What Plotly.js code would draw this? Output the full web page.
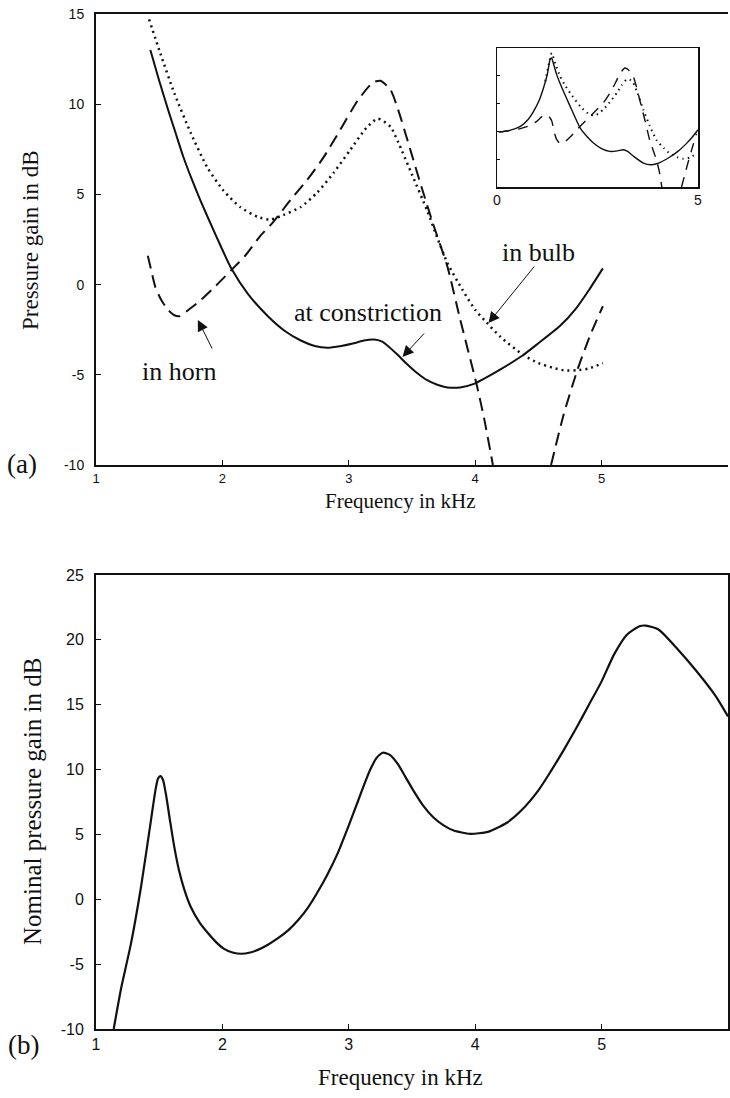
<!DOCTYPE html>
<html>
<head>
<meta charset="utf-8">
<script src="https://cdn.plot.ly/plotly-3.0.1.min.js"></script>
<style>html,body{margin:0;padding:0;background:#fff;}#chart{width:730px;height:1098px;}</style>
</head>
<body>
<div id="chart"></div>
<script>
// ---------- Panel (a): pressure gain, three locations ----------
const constrictionF = [1.43,1.50,1.57,1.63,1.69,1.76,1.83,1.95,2.07,2.20,2.36,2.50,2.62,2.73,2.83,2.94,3.04,3.12,3.20,3.26,3.31,3.38,3.46,3.54,3.62,3.70,3.78,3.88,3.99,4.10,4.20,4.38,4.50,4.67,4.80,4.90,5.01];
const constrictionDB = [13.0,11.3,9.7,8.4,7.1,5.8,4.6,2.7,0.9,-0.5,-1.75,-2.6,-3.1,-3.4,-3.5,-3.4,-3.25,-3.1,-3.05,-3.15,-3.4,-3.85,-4.4,-4.9,-5.3,-5.55,-5.7,-5.7,-5.5,-5.1,-4.7,-3.9,-3.25,-2.3,-1.3,-0.3,0.9];

const bulbF = [1.42,1.51,1.62,1.75,1.88,2.01,2.14,2.28,2.38,2.48,2.62,2.75,2.88,3.01,3.14,3.23,3.33,3.39,3.50,3.62,3.70,3.78,3.90,4.00,4.09,4.20,4.38,4.50,4.61,4.70,4.80,4.90,5.01];
const bulbDB = [14.7,12.8,10.6,8.4,6.5,5.2,4.3,3.75,3.6,3.85,4.3,5.1,6.2,7.45,8.7,9.2,8.75,7.9,6.1,4.1,2.6,1.2,-0.3,-1.4,-2.1,-2.9,-3.9,-4.35,-4.6,-4.75,-4.75,-4.65,-4.35];

const hornF1 = [1.41,1.44,1.47,1.52,1.57,1.62,1.66,1.75,1.83,1.95,2.07,2.18,2.30,2.40,2.54,2.67,2.80,2.93,3.07,3.19,3.25,3.33,3.39,3.49,3.58,3.67,3.78,3.88,4.01,4.07,4.14];
const hornDB1 = [1.6,0.7,-0.15,-0.9,-1.4,-1.7,-1.75,-1.3,-0.85,-0.05,0.8,1.6,2.7,3.45,4.7,5.8,7.05,8.55,10.2,11.2,11.3,10.8,9.7,7.4,5.3,3.3,1.0,-1.9,-5.5,-7.4,-10];
const hornF2 = [4.60,4.70,4.81,4.91,5.01];
const hornDB2 = [-10,-7.2,-4.7,-2.8,-1.2];

// ---------- Inset of panel (a): 0-5 kHz ----------
const insConF = [0.04,0.30,0.58,0.78,0.91,1.05,1.16,1.25,1.32,1.36,1.40,1.48,1.57,1.82,2.07,2.25,2.40,2.60,2.81,3.00,3.14,3.25,3.40,3.64,3.84,4.05,4.30,4.50,4.71,4.86,5.00];
const insConDB = [-0.1,0.15,0.9,2.2,3.6,5.6,7.9,10.2,12.9,13.2,12.3,10.3,8.6,4.5,0.6,-1.0,-2.1,-3.1,-3.6,-3.5,-3.3,-3.6,-4.5,-5.7,-6.0,-5.6,-4.6,-3.6,-2.2,-1.0,0.3];
const insBulbF = [1.20,1.30,1.36,1.45,1.57,1.70,1.82,2.07,2.31,2.45,2.64,2.80,2.98,3.10,3.22,3.30,3.39,3.50,3.64,3.80,3.97,4.15,4.30,4.50,4.63,4.80,4.96];
const insBulbDB = [9.0,12.5,14.1,12.2,9.9,8.2,6.9,4.5,3.0,2.9,3.9,5.2,6.9,8.3,9.3,9.3,8.7,6.8,3.9,1.0,-1.6,-3.0,-4.0,-4.7,-4.9,-4.7,-4.0];
const insHornF1 = [0.08,0.35,0.58,0.80,0.99,1.12,1.20,1.28,1.36,1.42,1.48,1.57,1.68,1.82,2.00,2.15,2.48,2.65,2.81,2.95,3.06,3.18,3.28,3.39,3.47,3.55,3.68,3.80,3.90,3.97,4.04,4.10];
const insHornDB1 = [-0.1,0.2,0.5,1.0,1.8,2.7,3.0,2.8,1.9,0.0,-1.4,-2.2,-1.9,-1.0,0.4,1.5,3.9,5.2,6.9,8.8,10.4,11.4,11.0,9.9,8.0,5.7,2.0,-1.6,-3.7,-5.2,-7.3,-10];
const insHornF2 = [4.59,4.70,4.79,4.88,4.96];
const insHornDB2 = [-10,-7.0,-4.6,-2.4,-0.4];

// ---------- Panel (b): nominal pressure gain ----------
const nominalF = [1.14,1.20,1.277,1.356,1.435,1.47,1.49,1.51,1.53,1.555,1.585,1.62,1.656,1.70,1.75,1.82,1.885,1.95,2.01,2.08,2.15,2.22,2.28,2.36,2.44,2.52,2.60,2.68,2.75,2.83,2.91,3.0,3.07,3.12,3.17,3.22,3.27,3.33,3.39,3.45,3.51,3.59,3.67,3.75,3.83,3.96,4.10,4.25,4.36,4.50,4.60,4.70,4.80,4.90,5.0,5.1,5.2,5.3,5.35,5.45,5.6,5.75,5.9,6.0];
const nominalDB = [-10,-6.8,-3.4,0.95,6.1,8.4,9.3,9.5,9.2,8.0,6.1,4.0,2.25,0.7,-0.6,-1.8,-2.6,-3.3,-3.8,-4.1,-4.2,-4.1,-3.9,-3.5,-3.0,-2.4,-1.6,-0.6,0.5,1.9,3.5,5.7,7.5,8.8,10.0,10.9,11.3,11.1,10.4,9.4,8.4,7.2,6.3,5.7,5.3,5.05,5.2,5.9,6.8,8.4,9.9,11.5,13.2,15.0,16.8,18.9,20.4,21.05,21.1,20.8,19.3,17.6,15.7,14.1];

const xTicks = [1,2,3,4,5,6];
const yTicksA = [-10,-5,0,5,10,15];
const yTicksB = [-10,-5,0,5,10,15,20,25];
const insetXTicks = [0,5];

// ---------- geometry helpers (pixel -> paper) ----------
const W = 730, H = 1098;
const fx = p => p / W;
const fy = p => 1 - p / H;

const serif = 'Liberation Serif, Times New Roman, serif';
const sans = 'Liberation Sans, Arial, sans-serif';
const blk = '#111';

function line(x, y, xa, ya, dash, width, smoothing) {
  return {x: x, y: y, xaxis: xa, yaxis: ya, type: 'scatter', mode: 'lines',
    line: {color: blk, width: width, dash: dash, shape: 'spline', smoothing: smoothing === undefined ? 0.6 : smoothing},
    hoverinfo: 'skip', cliponaxis: true};
}

const traces = [
  line(constrictionF, constrictionDB, 'x', 'y', 'solid', 2),
  line(bulbF, bulbDB, 'x', 'y', '2px,4px', 2.5),
  line(hornF1, hornDB1, 'x', 'y', '13px,7px', 2),
  line(hornF2, hornDB2, 'x', 'y', '13px,7px', 2),
  line(insConF, insConDB, 'x3', 'y3', 'solid', 1.4, 0.5),
  line(insBulbF, insBulbDB, 'x3', 'y3', '1.5px,4px', 2, 0.5),
  line(insHornF1, insHornDB1, 'x3', 'y3', '10px,8px', 1.4, 0.5),
  line(insHornF2, insHornDB2, 'x3', 'y3', '10px,8px', 1.4, 0.5),
  line(nominalF, nominalDB, 'x2', 'y2', 'solid', 2.2)
];

const axBase = {showgrid: false, zeroline: false, showline: true, linecolor: blk, linewidth: 2,
  ticks: 'inside', ticklen: 5, tickwidth: 1, tickcolor: blk, fixedrange: true};

const layout = {
  width: W, height: H,
  margin: {l: 0, r: 0, t: 0, b: 0},
  paper_bgcolor: '#fff', plot_bgcolor: '#fff',
  showlegend: false,
  xaxis: Object.assign({}, axBase, {domain: [fx(96), fx(728)], range: [1, 6], tickvals: xTicks, ticktext: xTicks.map(String),
    mirror: true, anchor: 'y', tickfont: {family: sans, size: 13, color: blk}}),
  yaxis: Object.assign({}, axBase, {domain: [fy(465), fy(14)], range: [-10, 15], tickvals: yTicksA, ticktext: yTicksA.map(String),
    anchor: 'x', ticklabelstandoff: 7, tickfont: {family: sans, size: 14, color: blk}}),
  xaxis2: Object.assign({}, axBase, {domain: [fx(96), fx(728)], range: [1, 6], tickvals: xTicks, ticktext: xTicks.map(String),
    mirror: true, anchor: 'y2', tickfont: {family: sans, size: 16, color: blk}}),
  yaxis2: Object.assign({}, axBase, {domain: [fy(1029), fy(575)], range: [-10, 25], tickvals: yTicksB, ticktext: yTicksB.map(String),
    mirror: true, anchor: 'x2', ticklabelstandoff: 7, tickfont: {family: sans, size: 16, color: blk}}),
  xaxis3: Object.assign({}, axBase, {domain: [fx(497), fx(698)], range: [0, 5], tickvals: insetXTicks, ticktext: insetXTicks.map(String),
    linewidth: 1.5, ticklen: 3, mirror: true, anchor: 'y3', tickfont: {family: sans, size: 14, color: blk}}),
  yaxis3: Object.assign({}, axBase, {domain: [fy(187), fy(48)], range: [-10, 15], tickvals: [-5, 0, 5, 10], showticklabels: false,
    linewidth: 1.5, ticklen: 3, mirror: true, anchor: 'x3'}),
  annotations: [
    {xref: 'paper', yref: 'paper', x: fx(400), y: fy(501), text: 'Frequency in kHz', showarrow: false,
      font: {family: serif, size: 21, color: blk}, xanchor: 'center', yanchor: 'middle'},
    {xref: 'paper', yref: 'paper', x: fx(400), y: fy(1077), text: 'Frequency in kHz', showarrow: false,
      font: {family: serif, size: 23, color: blk}, xanchor: 'center', yanchor: 'middle'},
    {xref: 'paper', yref: 'paper', x: fx(30), y: fy(240), text: 'Pressure gain in dB', showarrow: false, textangle: -90,
      font: {family: serif, size: 23, color: blk}, xanchor: 'center', yanchor: 'middle'},
    {xref: 'paper', yref: 'paper', x: fx(32), y: fy(802), text: 'Nominal pressure gain in dB', showarrow: false, textangle: -90,
      font: {family: serif, size: 25, color: blk}, xanchor: 'center', yanchor: 'middle'},
    {xref: 'paper', yref: 'paper', x: fx(22), y: fy(464), text: '(a)', showarrow: false,
      font: {family: serif, size: 27, color: blk}, xanchor: 'center', yanchor: 'middle'},
    {xref: 'paper', yref: 'paper', x: fx(24), y: fy(1045), text: '(b)', showarrow: false,
      font: {family: serif, size: 27, color: blk}, xanchor: 'center', yanchor: 'middle'},
    // labels in panel (a)
    {xref: 'x', yref: 'y', x: 1.656, y: -4.84, text: 'in horn', showarrow: false,
      font: {family: serif, size: 26, color: blk}, xanchor: 'center', yanchor: 'middle'},
    {xref: 'x', yref: 'y', x: 3.15, y: -1.57, text: 'at constriction', showarrow: false,
      font: {family: serif, size: 26, color: blk}, xanchor: 'center', yanchor: 'middle'},
    {xref: 'x', yref: 'y', x: 4.50, y: 1.8, text: 'in bulb', showarrow: false,
      font: {family: serif, size: 26, color: blk}, xanchor: 'center', yanchor: 'middle'},
    // arrows
    {xref: 'x', yref: 'y', x: 1.806, y: -1.96, ax: 15, ay: 30, text: '', showarrow: true,
      arrowhead: 2, arrowsize: 2.2, arrowwidth: 1, arrowcolor: blk},
    {xref: 'x', yref: 'y', x: 3.425, y: -4.01, ax: 23, ay: -25, text: '', showarrow: true,
      arrowhead: 2, arrowsize: 2.2, arrowwidth: 1, arrowcolor: blk},
    {xref: 'x', yref: 'y', x: 4.105, y: -2.13, ax: 47, ay: -58, text: '', showarrow: true,
      arrowhead: 2, arrowsize: 2.2, arrowwidth: 1, arrowcolor: blk}
  ]
};

Plotly.newPlot('chart', traces, layout, {staticPlot: true, displayModeBar: false});
</script>
</body>
</html>
